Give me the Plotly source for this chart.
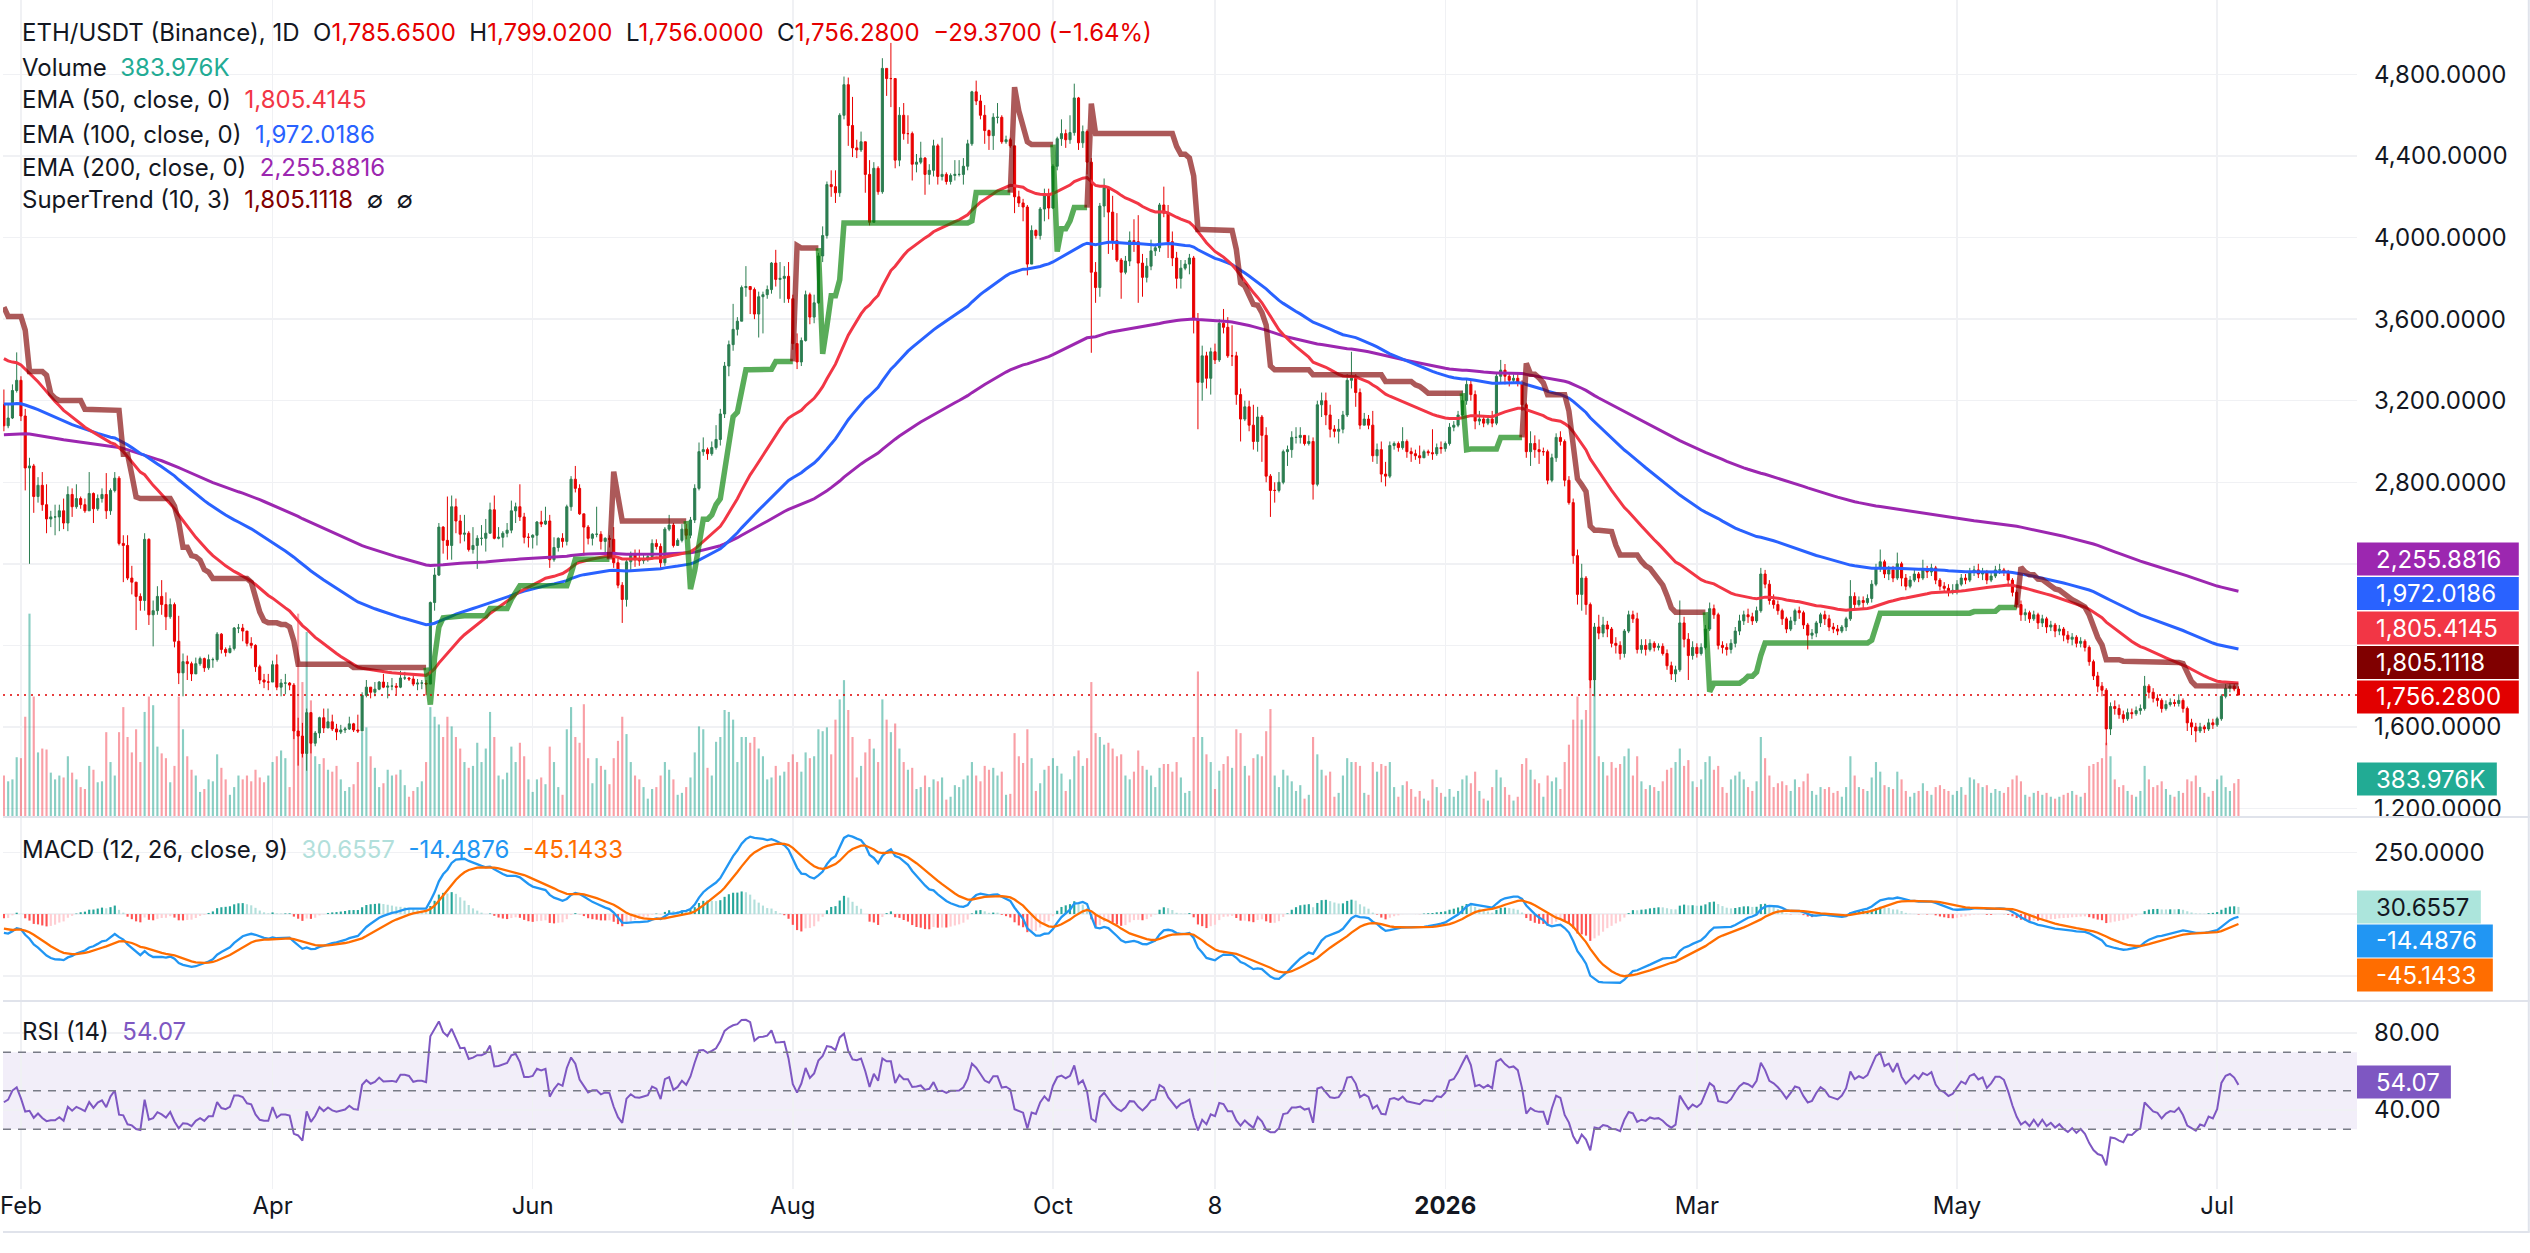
import numpy as np
import pandas as pd
import plotly.graph_objects as go

# ----------------------------------------------------------------- data
START_DATE = "2025-01-28"
OPEN_FIRST = 3180

C_2501 = [3077, 3115, 3250, 3300]
H_2501 = [3255, 3180, 3280, 3437]
L_2501 = [3050, 3065, 3110, 3240]
V_2501 = [420, 360, 380, 610]

C_2502 = [3125, 2870, 2880, 2730, 2785, 2690, 2620, 2630, 2630, 2660, 2600, 2740, 2680, 2720, 2690, 2660, 2745, 2670, 2720, 2740, 2660, 2760, 2820, 2500, 2490, 2330, 2310, 2240]
H_2502 = [3320, 3160, 2920, 2890, 2825, 2850, 2790, 2660, 2690, 2690, 2720, 2780, 2770, 2790, 2730, 2720, 2850, 2750, 2740, 2770, 2845, 2770, 2850, 2830, 2540, 2540, 2390, 2300]
L_2502 = [3100, 2760, 2400, 2650, 2700, 2660, 2550, 2580, 2540, 2560, 2570, 2560, 2630, 2670, 2670, 2650, 2660, 2600, 2660, 2700, 2620, 2640, 2750, 2490, 2310, 2320, 2250, 2075]
V_2502 = [600, 1030, 2100, 1240, 660, 700, 690, 450, 380, 420, 400, 620, 450, 380, 300, 280, 520, 480, 350, 360, 870, 560, 420, 870, 1130, 820, 660, 900]

C_2503 = [2220, 2520, 2150, 2170, 2240, 2200, 2140, 2200, 2020, 1865, 1920, 1910, 1860, 1910, 1935, 1890, 1930, 1930, 2055, 1980, 1965, 1985, 2085, 2085, 2070, 2010, 2000, 1895, 1830, 1820, 1820]
H_2503 = [2255, 2550, 2525, 2220, 2290, 2320, 2260, 2230, 2210, 2145, 1960, 1950, 1920, 1940, 1945, 1940, 1955, 1940, 2065, 2060, 1990, 2000, 2090, 2105, 2105, 2070, 2040, 2005, 1905, 1860, 1860]
L_2503 = [2170, 2170, 2100, 1995, 2150, 2150, 2075, 2130, 1990, 1810, 1750, 1830, 1825, 1860, 1900, 1870, 1880, 1890, 1920, 1960, 1945, 1960, 1975, 2060, 2020, 1995, 1985, 1870, 1810, 1790, 1780]
V_2503 = [560, 1080, 1240, 1150, 720, 650, 600, 350, 520, 1240, 900, 620, 480, 420, 250, 280, 380, 360, 640, 500, 380, 220, 300, 420, 380, 420, 360, 480, 400, 350, 420]

C_2504 = [1905, 1795, 1815, 1815, 1805, 1580, 1555, 1470, 1670, 1520, 1570, 1645, 1595, 1625, 1590, 1575, 1585, 1590, 1615, 1585, 1580, 1755, 1795, 1770, 1785, 1820, 1795, 1800, 1800, 1795]
H_2504 = [1925, 1955, 1835, 1860, 1820, 1815, 1645, 1620, 1690, 1670, 1580, 1650, 1690, 1690, 1660, 1615, 1610, 1600, 1650, 1620, 1660, 1770, 1830, 1790, 1820, 1825, 1860, 1820, 1840, 1815]
L_2504 = [1820, 1780, 1750, 1760, 1780, 1540, 1410, 1450, 1385, 1470, 1505, 1545, 1570, 1595, 1580, 1535, 1565, 1570, 1585, 1575, 1570, 1580, 1745, 1740, 1750, 1780, 1790, 1740, 1780, 1760]
V_2504 = [560, 620, 680, 600, 300, 1100, 2100, 1390, 1910, 1200, 620, 540, 600, 480, 460, 520, 380, 260, 300, 330, 560, 870, 920, 620, 500, 300, 340, 480, 420, 430]

C_2505 = [1840, 1840, 1835, 1810, 1815, 1815, 1810, 2210, 2345, 2580, 2515, 2490, 2680, 2610, 2545, 2550, 2470, 2490, 2525, 2525, 2550, 2665, 2525, 2530, 2550, 2565, 2660, 2680, 2630, 2530, 2530]
H_2505 = [1875, 1870, 1845, 1850, 1835, 1830, 1830, 2215, 2380, 2600, 2585, 2730, 2735, 2720, 2640, 2640, 2560, 2580, 2540, 2590, 2620, 2700, 2735, 2580, 2560, 2600, 2710, 2700, 2790, 2650, 2550]
L_2505 = [1790, 1830, 1825, 1800, 1780, 1785, 1755, 1810, 2170, 2340, 2450, 2420, 2420, 2550, 2500, 2510, 2460, 2450, 2375, 2490, 2460, 2550, 2520, 2520, 2480, 2530, 2550, 2600, 2610, 2500, 2480]
V_2505 = [480, 320, 200, 260, 300, 360, 560, 1130, 1030, 950, 820, 1030, 930, 820, 700, 560, 500, 520, 760, 560, 700, 1080, 820, 420, 380, 450, 720, 560, 760, 620, 380]

C_2506 = [2540, 2605, 2595, 2610, 2420, 2480, 2525, 2510, 2680, 2815, 2770, 2645, 2580, 2525, 2545, 2545, 2510, 2525, 2520, 2405, 2295, 2225, 2410, 2450, 2420, 2415, 2425, 2435, 2500, 2485]
H_2506 = [2545, 2610, 2660, 2680, 2640, 2530, 2530, 2550, 2690, 2830, 2880, 2790, 2645, 2590, 2550, 2680, 2560, 2530, 2540, 2580, 2425, 2310, 2420, 2460, 2470, 2470, 2450, 2450, 2520, 2520]
L_2506 = [2475, 2490, 2580, 2590, 2380, 2410, 2460, 2480, 2490, 2660, 2750, 2640, 2440, 2495, 2490, 2530, 2470, 2450, 2480, 2380, 2280, 2110, 2190, 2370, 2385, 2390, 2400, 2410, 2420, 2470]
V_2506 = [250, 380, 400, 330, 720, 560, 300, 220, 900, 1130, 820, 760, 1160, 600, 340, 600, 520, 480, 330, 600, 780, 1030, 850, 560, 420, 380, 300, 180, 280, 300]

C_2507 = [2405, 2570, 2590, 2490, 2515, 2570, 2540, 2615, 2770, 2950, 2960, 2940, 2970, 3010, 3135, 3370, 3475, 3550, 3590, 3755, 3760, 3745, 3625, 3710, 3720, 3745, 3875, 3795, 3800, 3810, 3700]
H_2507 = [2500, 2580, 2640, 2600, 2525, 2595, 2595, 2630, 2790, 2995, 3020, 2970, 3000, 3080, 3160, 3390, 3495, 3675, 3610, 3765, 3860, 3760, 3755, 3735, 3735, 3765, 3880, 3940, 3880, 3860, 3880]
L_2507 = [2380, 2390, 2560, 2480, 2490, 2505, 2520, 2525, 2600, 2760, 2930, 2910, 2930, 2960, 2980, 3115, 3320, 3445, 3520, 3590, 3710, 3625, 3600, 3510, 3530, 3700, 3725, 3760, 3700, 3680, 3680]
V_2507 = [420, 560, 480, 380, 220, 240, 300, 400, 660, 930, 900, 500, 420, 770, 820, 1100, 1080, 1000, 560, 820, 820, 760, 820, 700, 620, 380, 400, 520, 420, 460, 560]

C_2508 = [3480, 3390, 3495, 3720, 3610, 3680, 3910, 4010, 4260, 4250, 4220, 4600, 4750, 4550, 4440, 4430, 4470, 4310, 4075, 4340, 4225, 4830, 4780, 4780, 4380, 4600, 4510, 4510, 4360, 4370, 4390]
H_2508 = [3720, 3530, 3510, 3740, 3730, 3720, 3925, 4055, 4275, 4330, 4330, 4610, 4790, 4785, 4690, 4480, 4520, 4470, 4380, 4370, 4350, 4880, 4830, 4955, 4770, 4640, 4660, 4600, 4520, 4410, 4470]
L_2508 = [3450, 3355, 3370, 3490, 3575, 3580, 3675, 3880, 3995, 4200, 4170, 4200, 4580, 4450, 4395, 4390, 4420, 4220, 4060, 4080, 4210, 4215, 4695, 4640, 4340, 4350, 4480, 4460, 4280, 4320, 4360]
V_2508 = [640, 560, 460, 660, 600, 620, 900, 880, 920, 640, 1000, 1210, 1410, 1100, 820, 400, 520, 660, 800, 700, 560, 1210, 1000, 870, 960, 700, 560, 480, 500, 280, 300]

C_2509 = [4310, 4330, 4450, 4300, 4310, 4275, 4305, 4310, 4310, 4350, 4460, 4715, 4670, 4600, 4525, 4500, 4590, 4590, 4470, 4480, 4450, 4200, 4170, 4150, 3870, 4035, 4010, 4140, 4215, 4145]
H_2509 = [4395, 4360, 4480, 4460, 4490, 4320, 4315, 4380, 4380, 4390, 4480, 4720, 4770, 4700, 4650, 4530, 4610, 4660, 4600, 4500, 4490, 4450, 4230, 4190, 4160, 4060, 4040, 4150, 4240, 4240]
L_2509 = [4210, 4260, 4300, 4260, 4280, 4260, 4260, 4280, 4300, 4260, 4330, 4450, 4650, 4580, 4460, 4430, 4430, 4560, 4460, 4460, 4440, 4120, 4150, 4080, 3815, 3870, 3995, 3990, 4080, 4090]
V_2509 = [420, 300, 380, 360, 400, 170, 200, 320, 300, 380, 420, 560, 420, 360, 520, 480, 500, 420, 460, 220, 230, 860, 620, 550, 900, 600, 260, 340, 480, 520]

C_2510 = [4350, 4485, 4510, 4480, 4515, 4685, 4465, 4520, 4370, 3830, 3755, 4155, 4245, 4125, 3985, 3890, 3830, 3885, 3985, 3980, 3875, 3805, 3860, 3935, 3950, 4160, 4120, 3980, 3900, 3800, 3850]
H_2510 = [4360, 4495, 4580, 4530, 4600, 4755, 4690, 4550, 4530, 4390, 3880, 4170, 4290, 4220, 4205, 4120, 3900, 3910, 4030, 4090, 4110, 3920, 3900, 3990, 3970, 4170, 4250, 4160, 4030, 3930, 3890]
L_2510 = [4140, 4330, 4450, 4440, 4460, 4500, 4430, 4440, 4310, 3435, 3680, 3710, 4100, 3920, 3940, 3880, 3700, 3820, 3860, 3930, 3680, 3710, 3780, 3840, 3910, 3930, 4100, 3900, 3860, 3750, 3750]
V_2510 = [600, 520, 440, 260, 380, 620, 680, 520, 600, 1390, 860, 820, 740, 760, 700, 620, 640, 420, 380, 460, 680, 520, 480, 420, 300, 500, 540, 540, 460, 560, 400]

C_2511 = [3870, 3900, 3600, 3290, 3420, 3310, 3440, 3400, 3580, 3560, 3420, 3420, 3230, 3110, 3170, 3080, 3000, 3120, 3030, 2830, 2760, 2760, 2800, 2950, 2960, 3020, 3020, 3030, 2990, 3000]
H_2511 = [3890, 3920, 3910, 3630, 3470, 3440, 3460, 3480, 3600, 3650, 3610, 3570, 3440, 3260, 3200, 3200, 3180, 3170, 3130, 3070, 2840, 2800, 2850, 2960, 2980, 3050, 3070, 3070, 3030, 3030]
L_2511 = [3840, 3820, 3530, 3060, 3200, 3260, 3230, 3380, 3390, 3530, 3410, 3370, 3180, 3000, 3100, 3050, 2960, 2950, 2900, 2800, 2630, 2700, 2750, 2790, 2880, 2920, 2990, 2990, 2980, 2980]
V_2511 = [240, 260, 820, 1500, 820, 640, 560, 280, 470, 540, 620, 500, 900, 860, 520, 420, 600, 640, 620, 880, 1110, 420, 300, 480, 420, 360, 260, 320, 180, 220]

C_2512 = [2790, 3180, 3200, 3130, 3060, 3050, 3060, 3130, 3300, 3310, 3240, 3080, 3110, 3080, 2930, 2960, 2840, 2830, 2980, 2990, 2970, 3000, 2950, 2940, 2930, 2920, 2950, 2945, 2940, 2970, 2965]
H_2512 = [3020, 3200, 3240, 3240, 3180, 3080, 3110, 3150, 3330, 3440, 3330, 3260, 3140, 3130, 3150, 2990, 3000, 2900, 3000, 3000, 3000, 3070, 3010, 2970, 2960, 2980, 2960, 2960, 3060, 2990, 3000]
L_2512 = [2715, 2780, 3120, 3080, 3020, 3020, 2990, 3040, 3120, 3260, 3170, 3060, 3080, 3060, 2900, 2890, 2800, 2780, 2820, 2960, 2950, 2960, 2920, 2900, 2910, 2890, 2920, 2930, 2910, 2930, 2940]
V_2512 = [820, 640, 480, 420, 460, 200, 240, 420, 600, 560, 560, 520, 240, 220, 560, 460, 540, 520, 560, 300, 200, 320, 360, 280, 200, 260, 180, 160, 380, 300, 240]

C_2601 = [2990, 3070, 3080, 3130, 3200, 3280, 3230, 3100, 3110, 3090, 3110, 3090, 3320, 3350, 3320, 3300, 3310, 3290, 3180, 2950, 2990, 2960, 2950, 2950, 2810, 2920, 3020, 3000, 2810, 2700, 2440]
H_2601 = [3000, 3090, 3100, 3150, 3250, 3310, 3300, 3250, 3150, 3130, 3130, 3150, 3340, 3400, 3380, 3340, 3330, 3330, 3300, 3190, 3050, 3030, 3010, 2970, 2960, 2940, 3040, 3050, 3010, 2830, 2720]
L_2601 = [2950, 2980, 3050, 3070, 3120, 3180, 3200, 3060, 3080, 3070, 3080, 3070, 3080, 3290, 3280, 3270, 3290, 3270, 3150, 2920, 2880, 2920, 2890, 2930, 2790, 2800, 2900, 2980, 2780, 2690, 2400]
V_2601 = [200, 280, 200, 260, 380, 420, 340, 460, 260, 180, 160, 300, 480, 400, 300, 220, 160, 200, 540, 600, 480, 380, 340, 200, 420, 360, 400, 280, 560, 740, 1000]

C_2602 = [2250, 2330, 2200, 1830, 2090, 2060, 2100, 2080, 2010, 2000, 1960, 2070, 2150, 2130, 1980, 2000, 1980, 2010, 1990, 1995, 1960, 1900, 1860, 1880, 2110, 2030, 1950, 1990]
H_2602 = [2470, 2400, 2340, 2210, 2110, 2150, 2140, 2120, 2090, 2040, 2020, 2080, 2170, 2170, 2160, 2030, 2030, 2030, 2020, 2010, 2010, 1980, 1920, 1900, 2220, 2140, 2060, 2020]
L_2602 = [2200, 2170, 2150, 1790, 1750, 2030, 2040, 2040, 1990, 1960, 1930, 1940, 2060, 2110, 1960, 1960, 1950, 1970, 1970, 1975, 1950, 1880, 1830, 1820, 1870, 1990, 1830, 1930]
V_2602 = [1240, 1000, 1100, 1700, 1400, 620, 560, 420, 560, 500, 540, 620, 700, 420, 620, 360, 280, 320, 300, 260, 360, 480, 500, 560, 700, 520, 580, 360]

C_2603 = [1960, 1990, 2080, 2180, 2150, 2000, 1990, 1980, 2010, 2070, 2120, 2150, 2140, 2120, 2170, 2350, 2300, 2220, 2200, 2170, 2130, 2080, 2120, 2170, 2160, 2100, 2050, 2060, 2110, 2150, 2130]
H_2603 = [2010, 2010, 2100, 2210, 2200, 2160, 2020, 2010, 2030, 2090, 2150, 2170, 2180, 2160, 2190, 2380, 2370, 2320, 2250, 2220, 2180, 2140, 2140, 2180, 2190, 2170, 2110, 2080, 2120, 2160, 2170]
L_2603 = [1940, 1950, 1980, 2070, 2130, 1980, 1960, 1950, 1960, 1990, 2050, 2100, 2110, 2100, 2110, 2160, 2280, 2200, 2180, 2150, 2100, 2060, 2070, 2100, 2130, 2080, 1980, 2030, 2040, 2090, 2100]
V_2603 = [300, 380, 560, 620, 480, 520, 300, 240, 380, 420, 460, 380, 300, 260, 360, 820, 600, 420, 300, 340, 360, 320, 260, 380, 300, 360, 440, 260, 220, 300, 280]

C_2604 = [2090, 2080, 2070, 2090, 2130, 2240, 2200, 2220, 2210, 2230, 2300, 2380, 2410, 2350, 2370, 2330, 2400, 2330, 2290, 2320, 2350, 2330, 2370, 2360, 2380, 2320, 2290, 2280, 2260, 2270]
H_2604 = [2150, 2110, 2100, 2100, 2140, 2320, 2260, 2240, 2240, 2250, 2320, 2400, 2470, 2420, 2390, 2390, 2455, 2410, 2350, 2340, 2370, 2360, 2420, 2390, 2400, 2390, 2330, 2310, 2300, 2300]
L_2604 = [2070, 2060, 2050, 2060, 2070, 2120, 2180, 2190, 2180, 2200, 2210, 2290, 2360, 2330, 2320, 2310, 2320, 2290, 2270, 2280, 2310, 2310, 2320, 2330, 2340, 2300, 2270, 2260, 2240, 2250]
V_2604 = [300, 240, 260, 200, 300, 620, 420, 300, 280, 260, 400, 560, 460, 320, 300, 280, 460, 380, 260, 200, 240, 260, 340, 260, 220, 300, 320, 280, 260, 220]

C_2605 = [2300, 2330, 2320, 2360, 2370, 2350, 2360, 2320, 2340, 2370, 2370, 2360, 2320, 2260, 2200, 2150, 2160, 2130, 2150, 2110, 2130, 2090, 2100, 2070, 2080, 2050, 2030, 2040, 2010, 2020, 1990]
H_2605 = [2320, 2350, 2350, 2380, 2390, 2400, 2380, 2370, 2360, 2390, 2400, 2380, 2370, 2330, 2270, 2220, 2180, 2170, 2170, 2160, 2150, 2140, 2120, 2110, 2100, 2090, 2070, 2060, 2050, 2040, 2030]
L_2605 = [2250, 2290, 2300, 2310, 2340, 2330, 2320, 2300, 2310, 2330, 2350, 2340, 2290, 2240, 2180, 2120, 2120, 2110, 2120, 2080, 2090, 2060, 2070, 2040, 2050, 2020, 2010, 2000, 1990, 1990, 1970]
V_2605 = [260, 300, 220, 400, 380, 340, 300, 320, 240, 280, 260, 240, 300, 380, 420, 360, 220, 200, 240, 260, 220, 240, 200, 180, 200, 220, 240, 260, 220, 200, 240]

C_2606 = [1920, 1850, 1800, 1780, 1590, 1700, 1690, 1660, 1640, 1670, 1665, 1680, 1690, 1800, 1770, 1740, 1730, 1690, 1710, 1720, 1715, 1730, 1690, 1620, 1600, 1580, 1600, 1590, 1620, 1610]
H_2606 = [2000, 1930, 1870, 1820, 1790, 1720, 1730, 1710, 1680, 1690, 1690, 1700, 1710, 1850, 1810, 1790, 1760, 1740, 1730, 1740, 1735, 1760, 1740, 1700, 1640, 1620, 1620, 1610, 1640, 1640]
L_2606 = [1900, 1830, 1770, 1750, 1510, 1560, 1660, 1640, 1620, 1630, 1640, 1655, 1660, 1680, 1740, 1720, 1700, 1670, 1680, 1700, 1700, 1700, 1670, 1580, 1560, 1525, 1570, 1570, 1580, 1590]
V_2606 = [520, 540, 560, 600, 760, 620, 380, 300, 320, 260, 220, 200, 260, 520, 380, 300, 320, 360, 280, 220, 200, 260, 240, 380, 360, 420, 300, 240, 200, 260]

C_2607 = [1640, 1750, 1790, 1800, 1785.65, 1756.28]
H_2607 = [1650, 1760, 1810, 1815, 1810, 1799.02]
L_2607 = [1600, 1630, 1740, 1770, 1775, 1756.00]
V_2607 = [380, 420, 300, 260, 340, 383.976]

CLOSE = (C_2501 + C_2502 + C_2503 + C_2504 + C_2505 + C_2506 + C_2507 + C_2508 + C_2509
         + C_2510 + C_2511 + C_2512 + C_2601 + C_2602 + C_2603 + C_2604 + C_2605 + C_2606 + C_2607)
HIGH = (H_2501 + H_2502 + H_2503 + H_2504 + H_2505 + H_2506 + H_2507 + H_2508 + H_2509
        + H_2510 + H_2511 + H_2512 + H_2601 + H_2602 + H_2603 + H_2604 + H_2605 + H_2606 + H_2607)
LOW = (L_2501 + L_2502 + L_2503 + L_2504 + L_2505 + L_2506 + L_2507 + L_2508 + L_2509
       + L_2510 + L_2511 + L_2512 + L_2601 + L_2602 + L_2603 + L_2604 + L_2605 + L_2606 + L_2607)
VOLUME_K = (V_2501 + V_2502 + V_2503 + V_2504 + V_2505 + V_2506 + V_2507 + V_2508 + V_2509
            + V_2510 + V_2511 + V_2512 + V_2601 + V_2602 + V_2603 + V_2604 + V_2605 + V_2606 + V_2607)

# indicator states at the left edge of the view
SEED_EMA50, SEED_EMA100, SEED_EMA200 = 3420, 3186, 3033
SEED_EMA12, SEED_EMA26, SEED_SIGNAL = 3250, 3317, -55
SEED_AVG_GAIN, SEED_AVG_LOSS = 55, 62
SEED_ATR, SEED_ST_UP, SEED_ST_DN = 165, 2900, 3683

# legend / badge values as printed on the chart
LEG_EMA50, LEG_EMA100, LEG_EMA200, LEG_ST = 1805.4145, 1972.0186, 2255.8816, 1805.1118
LEG_HIST, LEG_MACD, LEG_SIGNAL, LEG_RSI = 30.6557, -14.4876, -45.1433, 54.07

PRICE_TICKS = [1200, 1600, 2000, 2400, 2800, 3200, 3600, 4000, 4400, 4800]
PRICE_HIDDEN = [2000, 2400]          # labels covered by the value badges
MACD_TICKS = [-250, 0, 250]
MACD_HIDDEN = [-250, 0]
RSI_TICKS = [40, 80]
TIME_TICKS = ["2025-02-01", "2025-04-01", "2025-06-01", "2025-08-01", "2025-10-01",
              "2025-11-08", "2026-01-01", "2026-03-01", "2026-05-01", "2026-07-01"]
TIME_LABELS = ["Feb", "Apr", "Jun", "Aug", "Oct", "8", "<b>2026</b>", "Mar", "May", "Jul"]

# ----------------------------------------------------------------- series
N = min(len(CLOSE), len(HIGH), len(LOW), len(VOLUME_K))
CLOSE, HIGH, LOW, VOLUME_K = CLOSE[:N], HIGH[:N], LOW[:N], VOLUME_K[:N]
dates = pd.date_range(START_DATE, periods=N, freq="D")
OPEN = [OPEN_FIRST] + CLOSE[:-1]
HIGH = [max(h, o, c) for h, o, c in zip(HIGH, OPEN, CLOSE)]
LOW = [min(l, o, c) for l, o, c in zip(LOW, OPEN, CLOSE)]


def ema(vals, n, seed):
    a = 2.0 / (n + 1)
    e = seed
    out = []
    for v in vals:
        e = e + a * (v - e)
        out.append(e)
    return np.array(out)


ema50 = ema(CLOSE, 50, SEED_EMA50)
ema100 = ema(CLOSE, 100, SEED_EMA100)
ema200 = ema(CLOSE, 200, SEED_EMA200)
macd = ema(CLOSE, 12, SEED_EMA12) - ema(CLOSE, 26, SEED_EMA26)
signal = ema(macd, 9, SEED_SIGNAL)
hist = macd - signal

rsi = []
ag, al, prev = SEED_AVG_GAIN, SEED_AVG_LOSS, OPEN_FIRST
for c in CLOSE:
    ch = c - prev
    ag = (ag * 13 + max(ch, 0)) / 14
    al = (al * 13 + max(-ch, 0)) / 14
    rsi.append(100 - 100 / (1 + ag / al))
    prev = c

st_val, st_dir = [], []
atr, up_p, dn_p, trend, pc = SEED_ATR, SEED_ST_UP, SEED_ST_DN, -1, OPEN_FIRST
for h, l, c in zip(HIGH, LOW, CLOSE):
    tr = max(h - l, abs(h - pc), abs(l - pc))
    atr = (atr * 9 + tr) / 10
    hl2 = (h + l) / 2
    up = hl2 - 3 * atr
    dn = hl2 + 3 * atr
    if pc > up_p:
        up = max(up, up_p)
    if pc < dn_p:
        dn = min(dn, dn_p)
    if trend == -1 and c > dn_p:
        trend = 1
    elif trend == 1 and c < up_p:
        trend = -1
    st_val.append(up if trend == 1 else dn)
    st_dir.append(trend)
    up_p, dn_p, pc = up, dn, c

# ----------------------------------------------------------------- layout geometry (px)
W, H = 2530, 1253
PR, PB = 2357, 1189            # plot area right / bottom
MAIN_BOT, MACD_TOP, MACD_BOT, RSI_TOP = 816, 818, 1000, 1002


def py(Y):
    return 1 - Y / PB


def pxp(X):
    return X / PR


FONT = "Inter, Roboto, 'Noto Sans', sans-serif"
TXT = "#131722"
GRID = "#f0f1f4"
UP, DN = "#2b7d50", "#e80000"
VOL_UP, VOL_DN = "rgba(8,153,129,0.48)", "rgba(242,54,69,0.48)"
C50, C100, C200 = "#f23645", "#2962ff", "#9c27b0"
ST_UP_C, ST_DN_C = "rgba(0,128,0,0.65)", "rgba(128,0,0,0.65)"
MACD_C, SIG_C, RSI_C = "#2196f3", "#ff6d00", "#7e57c2"
DAY_MS = 86400000

fig = go.Figure()

vol_colors = [VOL_UP if c >= o else VOL_DN for o, c in zip(OPEN, CLOSE)]
fig.add_trace(go.Bar(x=dates, y=VOLUME_K, width=0.5 * DAY_MS, marker=dict(color=vol_colors, line=dict(width=0)),
                     xaxis="x", yaxis="y", hoverinfo="skip"))

fig.add_trace(go.Candlestick(x=dates, open=OPEN, high=HIGH, low=LOW, close=CLOSE,
                             increasing=dict(line=dict(color=UP, width=1), fillcolor=UP),
                             decreasing=dict(line=dict(color=DN, width=1), fillcolor=DN),
                             whiskerwidth=0, xaxis="x", yaxis="y2", hoverinfo="skip"))

for arr, col in [(ema200, C200), (ema100, C100), (ema50, C50)]:
    fig.add_trace(go.Scatter(x=dates, y=arr, mode="lines", line=dict(color=col, width=3),
                             xaxis="x", yaxis="y2", hoverinfo="skip"))

runs = []
s = 0
for i in range(1, N):
    if st_dir[i] != st_dir[i - 1]:
        runs.append((s, i - 1))
        s = i
runs.append((s, N - 1))
for a, b in runs:
    a0 = max(a - 1, 0)
    col = ST_UP_C if st_dir[a] == 1 else ST_DN_C
    fig.add_trace(go.Scatter(x=dates[a0:b + 1], y=st_val[a0:b + 1], mode="lines",
                             line=dict(color=col, width=5.5), xaxis="x", yaxis="y2", hoverinfo="skip"))

hist_colors = []
for i, hv in enumerate(hist):
    hp = hist[i - 1] if i > 0 else hv
    if hv >= 0:
        hist_colors.append("#26a69a" if hv > hp else "#b2dfdb")
    else:
        hist_colors.append("#ffcdd2" if hv > hp else "#ff5252")
fig.add_trace(go.Bar(x=dates, y=hist, width=0.5 * DAY_MS, marker=dict(color=hist_colors, line=dict(width=0)),
                     xaxis="x", yaxis="y3", hoverinfo="skip"))
fig.add_trace(go.Scatter(x=dates, y=macd, mode="lines", line=dict(color=MACD_C, width=2.3),
                         xaxis="x", yaxis="y3", hoverinfo="skip"))
fig.add_trace(go.Scatter(x=dates, y=signal, mode="lines", line=dict(color=SIG_C, width=2.3),
                         xaxis="x", yaxis="y3", hoverinfo="skip"))
fig.add_trace(go.Scatter(x=dates, y=rsi, mode="lines", line=dict(color=RSI_C, width=2),
                         xaxis="x", yaxis="y4", hoverinfo="skip"))

# ----------------------------------------------------------------- axes
base = pd.Timestamp(START_DATE)
x0 = base - pd.Timedelta(hours=0.211 * 24)
x1 = base + pd.Timedelta(hours=551.8 * 24)
VOL_TOP = 383.976 * MAIN_BOT / 37.0

axis_font = dict(family=FONT, size=24, color=TXT)
fig.update_layout(
    width=W, height=H, margin=dict(l=0, r=W - PR, t=0, b=H - PB),
    paper_bgcolor="white", plot_bgcolor="white", showlegend=False, hovermode=False,
    font=dict(family=FONT, size=24, color=TXT),
    xaxis=dict(type="date", range=[x0, x1], anchor="y4", domain=[0, 1],
               tickvals=[pd.Timestamp(t) for t in TIME_TICKS], ticktext=TIME_LABELS,
               ticklabeloverflow="allow",
               showgrid=True, gridcolor=GRID, gridwidth=1.5, zeroline=False, showline=False,
               ticks="", tickfont=axis_font, rangeslider=dict(visible=False), fixedrange=True),
    yaxis=dict(domain=[py(MAIN_BOT), 1], range=[0, VOL_TOP], visible=False, fixedrange=True),
    yaxis2=dict(overlaying="y", anchor="x", side="right", range=[1163, 5165.4],
                tickvals=PRICE_TICKS,
                ticktext=["" if v in PRICE_HIDDEN else f"{v:,.4f}" for v in PRICE_TICKS],
                showgrid=True, gridcolor=GRID, gridwidth=1.5, zeroline=False, showline=False,
                ticks="", ticklabelstandoff=16, tickfont=axis_font, fixedrange=True),
    yaxis3=dict(domain=[py(MACD_BOT), py(MACD_TOP)], anchor="x", side="right", range=[-348, 389],
                tickvals=MACD_TICKS,
                ticktext=["" if v in MACD_HIDDEN else f"{v:.4f}" for v in MACD_TICKS],
                showgrid=True, gridcolor=GRID, gridwidth=1.5, zeroline=False, showline=False,
                ticks="", ticklabelstandoff=16, tickfont=axis_font, fixedrange=True),
    yaxis4=dict(domain=[0, py(RSI_TOP)], anchor="x", side="right", range=[-1.04, 96.1],
                tickvals=RSI_TICKS, ticktext=[f"{v:.2f}" for v in RSI_TICKS],
                showgrid=True, gridcolor=GRID, gridwidth=1.5, zeroline=False, showline=False,
                ticks="", ticklabelstandoff=16, tickfont=axis_font, fixedrange=True),
)

# ----------------------------------------------------------------- shapes
shapes = []
shapes.append(dict(type="rect", xref="paper", yref="y4", x0=0, x1=1, y0=30, y1=70,
                   fillcolor="rgba(126,87,194,0.1)", line=dict(width=0), layer="below"))
for lv in (70, 50, 30):
    shapes.append(dict(type="line", xref="paper", yref="y4", x0=0, x1=1, y0=lv, y1=lv,
                       line=dict(color="#787b86", width=1.5, dash="8px,7px")))
shapes.append(dict(type="line", xref="paper", yref="y2", x0=0, x1=1, y0=CLOSE[-1], y1=CLOSE[-1],
                   line=dict(color="#e00000", width=1.6, dash="2px,5px")))
# hide overflow of the price scale into the MACD pane
shapes.append(dict(type="rect", xref="paper", yref="paper", x0=1, x1=W / PR,
                   y0=py(836), y1=py(MAIN_BOT + 1), fillcolor="white", line=dict(width=0), layer="above"))
for Y in (MAIN_BOT + 1, RSI_TOP - 1):
    shapes.append(dict(type="line", xref="paper", yref="paper", x0=0, x1=W / PR, y0=py(Y), y1=py(Y),
                       line=dict(color="#e0e3eb", width=2), layer="above"))
shapes.append(dict(type="line", xref="paper", yref="paper", x0=0, x1=W / PR, y0=py(1232), y1=py(1232),
                   line=dict(color="#e0e3eb", width=2), layer="above"))
shapes.append(dict(type="line", xref="paper", yref="paper", x0=W / PR - 1 / PR, x1=W / PR - 1 / PR,
                   y0=py(0), y1=py(1232), line=dict(color="#e0e3eb", width=2), layer="above"))

annotations = []


def badge(yc, text, bg, fg="white", w=162, h=33):
    shapes.append(dict(type="rect", xref="paper", yref="paper", x0=1, x1=pxp(PR + w),
                       y0=py(yc + h / 2), y1=py(yc - h / 2), fillcolor=bg, line=dict(width=0), layer="above"))
    annotations.append(dict(xref="paper", yref="paper", x=pxp(PR + 17), y=py(yc), xanchor="left",
                            yanchor="middle", text=text, showarrow=False,
                            font=dict(family=FONT, size=24, color=fg)))


badge(559, f"{LEG_EMA200:,.4f}", C200)
badge(593.5, f"{LEG_EMA100:,.4f}", C100)
badge(628, f"{LEG_EMA50:,.4f}", C50)
badge(662.5, f"{LEG_ST:,.4f}", "#800000")
badge(697, f"{CLOSE[-1]:,.4f}", "#e20000")
badge(779, f"{VOLUME_K[-1]:.3f}K", "#22ab94", w=140)
badge(907, f"{LEG_HIST:.4f}", "#ace5dc", fg=TXT, w=124)
badge(941, f"{LEG_MACD:.4f}", MACD_C, w=136)
badge(975, f"{LEG_SIGNAL:.4f}", SIG_C, w=136)
badge(1082, f"{LEG_RSI:.2f}", RSI_C, w=94)

NB = "\u00a0\u00a0"


def span(t, col):
    return f'<span style="color:{col}">{t}</span>'


RED = "#e50000"
chg = CLOSE[-1] - OPEN[-1]
pct = chg / OPEN[-1] * 100
row1 = ("ETH/USDT (Binance), 1D" + NB + "O" + span(f"{OPEN[-1]:,.4f}", RED) + NB + "H" + span(f"{HIGH[-1]:,.4f}", RED)
        + NB + "L" + span(f"{LOW[-1]:,.4f}", RED) + NB + "C" + span(f"{CLOSE[-1]:,.4f}", RED) + NB
        + span(f"\u2212{abs(chg):,.4f} (\u2212{abs(pct):.2f}%)", RED))
rows = [
    (33, row1),
    (67, "Volume" + NB + span(f"{VOLUME_K[-1]:.3f}K", "#22ab94")),
    (100, "EMA (50, close, 0)" + NB + span(f"{LEG_EMA50:,.4f}", C50)),
    (134, "EMA (100, close, 0)" + NB + span(f"{LEG_EMA100:,.4f}", C100)),
    (167, "EMA (200, close, 0)" + NB + span(f"{LEG_EMA200:,.4f}", C200)),
    (200, "SuperTrend (10, 3)" + NB + span(f"{LEG_ST:,.4f}", "#800000") + NB + "\u2205" + NB + "\u2205"),
    (849, "MACD (12, 26, close, 9)" + NB + span(f"{LEG_HIST:.4f}", "#b2dfdb") + NB
     + span(f"{LEG_MACD:.4f}", MACD_C) + NB + span(f"{LEG_SIGNAL:.4f}", SIG_C)),
    (1031, "RSI (14)" + NB + span(f"{LEG_RSI:.2f}", RSI_C)),
]
for Y, t in rows:
    annotations.append(dict(xref="paper", yref="paper", x=pxp(17), y=py(Y), xanchor="left", yanchor="middle",
                            text=t, showarrow=False, font=dict(family=FONT, size=24, color=TXT)))

fig.update_layout(shapes=shapes, annotations=annotations)

fig.write_html("out.html", include_plotlyjs=True, config={"displayModeBar": False, "staticPlot": True},
               post_script="document.body.style.margin='0';")
